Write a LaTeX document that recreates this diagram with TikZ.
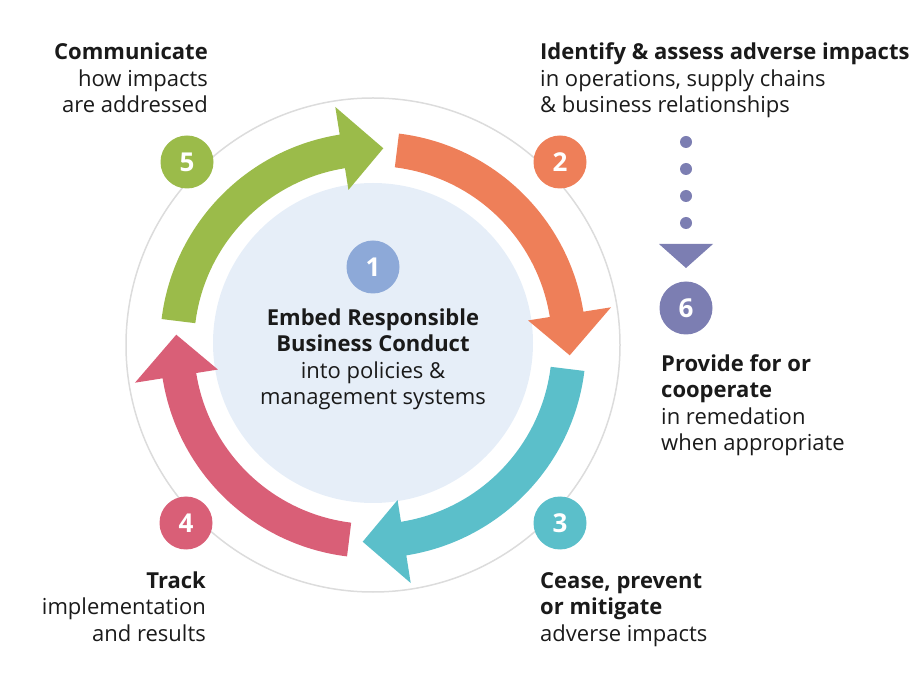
\documentclass[tikz,border=0pt]{standalone}
\usepackage{fontspec}
\setmainfont{Open Sans}
\definecolor{cgreen}{HTML}{9BBB4A}
\definecolor{corange}{HTML}{EE7F59}
\definecolor{cteal}{HTML}{5BBFCA}
\definecolor{cred}{HTML}{D95F77}
\definecolor{cblue}{HTML}{8DA9D8}
\definecolor{cpurple}{HTML}{7C7EB2}
\definecolor{cinner}{HTML}{E6EEF8}
\definecolor{cring}{HTML}{DCDCDC}
\definecolor{ctext}{HTML}{1A1A1A}
\tikzset{
  numdisc/.style={circle, fill=#1, minimum size=53pt, inner sep=0pt, text=white, font=\fontsize{26}{26}\selectfont\bfseries},
  txt/.style={inner sep=0pt, text=ctext, font=\fontsize{22}{26.5}\selectfont},
  dotmark/.style={circle, fill=cpurple, minimum size=12pt, inner sep=0pt}
}
\begin{document}
\begin{tikzpicture}[x=1pt,y=1pt]
\useasboundingbox (0,0) rectangle (919,-684);
% ring and inner disc
\draw[cring, line width=1.5pt] (373,-345) circle[radius=247];
\fill[cinner] (373,-343) circle[radius=160];
% arrows
\begin{scope}[shift={(373,-345)}]
\foreach \k/\col in {0/cgreen,1/corange,2/cteal,3/cred}{
  \pgfmathsetmacro{\s}{173-90*\k}
  \pgfmathsetmacro{\b}{99-90*\k}
  \pgfmathsetmacro{\t}{87-90*\k}
  \fill[\col] (\s:213) arc[start angle=\s, end angle=\b, radius=213]
     -- (\b:241) -- (\t:197) -- (\b:157) -- (\b:179)
     arc[start angle=\b, end angle=\s, radius=179] -- cycle;
}
\end{scope}
% number discs
\node[numdisc=cblue] (n1) at (373,-267) {1};
\node[numdisc=corange] (n2) at (560,-162) {2};
\node[numdisc=cteal] (n3) at (560,-523) {3};
\node[numdisc=cred] (n4) at (186,-523) {4};
\node[numdisc=cgreen] (n5) at (187,-162) {5};
\node[numdisc=cpurple] (n6) at (686,-308) {6};
% dotted pointer to 6
\node[dotmark] (d1) at (686,-142) {};
\node[dotmark] (d2) at (686,-169) {};
\node[dotmark] (d3) at (686,-196) {};
\node[dotmark] (d4) at (686,-223) {};
\coordinate (tl) at (659,-244);
\coordinate (tr) at (713,-244);
\coordinate (tb) at (686,-268);
\fill[cpurple] (tl) -- (tr) -- (tb) -- cycle;
% texts (base anchor = last line baseline)
\node[txt, anchor=base east, align=right] (t5) at (208,-113)
  {\textbf{Communicate}\\how impacts\\are addressed};
\node[txt, anchor=base west, align=left] (t2) at (540,-113)
  {\textbf{Identify \& assess adverse impacts}\\in operations, supply chains\\\& business relationships};
\node[txt, anchor=base west, align=left] (t6) at (661,-451)
  {\textbf{Provide for or}\\\textbf{cooperate}\\in remedation\\when appropriate};
\node[txt, anchor=base west, align=left] (t3) at (540,-641)
  {\textbf{Cease, prevent}\\\textbf{or mitigate}\\adverse impacts};
\node[txt, anchor=base east, align=right] (t4) at (206,-641)
  {\textbf{Track}\\implementation\\and results};
\node[txt, anchor=base, align=center] (t1) at (373,-405)
  {\textbf{Embed Responsible}\\\textbf{Business Conduct}\\into policies \&\\management systems};
\end{tikzpicture}
\end{document}
